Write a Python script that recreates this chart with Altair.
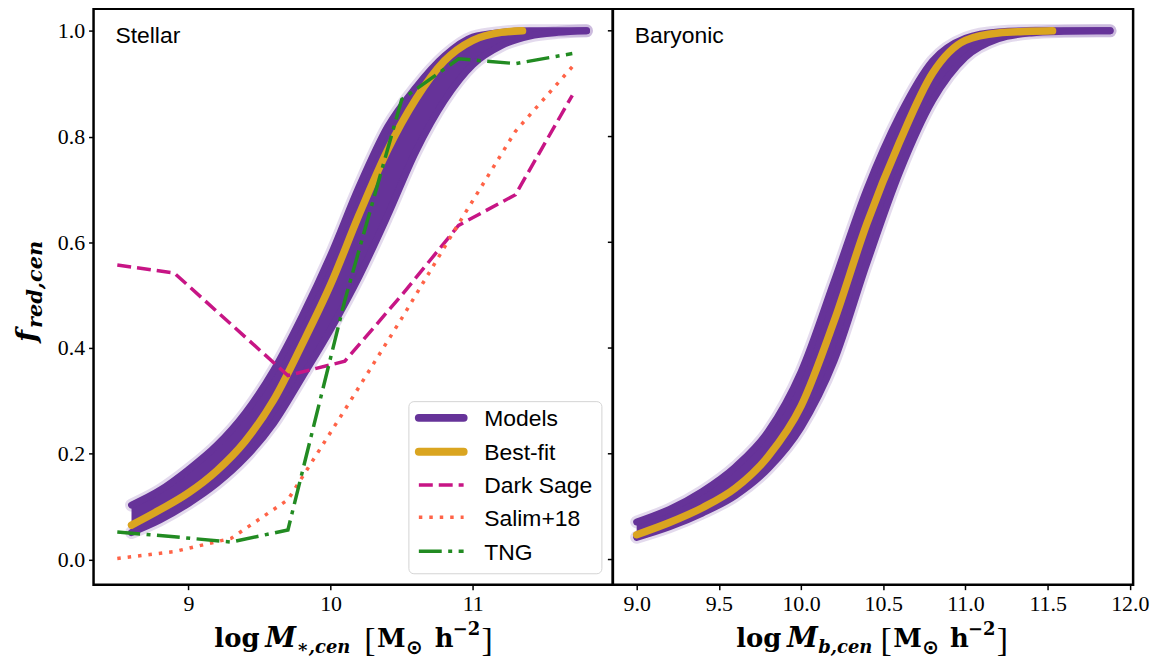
import altair as alt
import pandas as pd

# ---------------- data ----------------
# Stellar panel: envelope of model curves (upper / lower extreme curves) and best-fit
st_x = [8.6, 8.8, 9.0, 9.2, 9.4, 9.6, 9.8, 10.0, 10.2, 10.4, 10.6, 10.8, 11.0, 11.2, 11.4, 11.6, 11.8]
st_upper = [0.103, 0.131, 0.170, 0.216, 0.277, 0.358, 0.460, 0.575, 0.705, 0.818, 0.893, 0.952, 0.988, 0.997, 1.0, 1.0, 1.0]
st_lower = [0.051, 0.075, 0.106, 0.144, 0.193, 0.258, 0.345, 0.435, 0.535, 0.650, 0.772, 0.868, 0.936, 0.972, 0.990, 0.997, 1.0]
st_best_x = [8.6, 8.8, 9.0, 9.2, 9.4, 9.6, 9.8, 10.0, 10.2, 10.4, 10.6, 10.8, 11.0, 11.2, 11.35]
st_best = [0.065, 0.094, 0.126, 0.168, 0.224, 0.302, 0.407, 0.520, 0.652, 0.774, 0.871, 0.943, 0.982, 0.997, 1.0]

# Baryonic panel
ba_x = [9.0, 9.2, 9.4, 9.6, 9.8, 10.0, 10.2, 10.4, 10.6, 10.8, 11.0, 11.2, 11.4, 11.6, 11.8, 11.88]
ba_upper = [0.071, 0.095, 0.129, 0.175, 0.242, 0.355, 0.525, 0.700, 0.840, 0.943, 0.986, 0.998, 1.0, 1.0, 1.0, 1.0]
ba_lower = [0.042, 0.062, 0.088, 0.121, 0.172, 0.250, 0.375, 0.560, 0.733, 0.868, 0.950, 0.985, 0.996, 0.999, 1.0, 1.0]
ba_best_x = [9.0, 9.2, 9.4, 9.6, 9.8, 10.0, 10.2, 10.4, 10.6, 10.8, 11.0, 11.2, 11.4, 11.53]
ba_best = [0.047, 0.070, 0.098, 0.135, 0.195, 0.290, 0.450, 0.635, 0.790, 0.920, 0.982, 0.996, 0.999, 1.0]

# Comparison data (stellar panel)
obs_x = [8.5, 8.9, 9.3, 9.7, 10.1, 10.5, 10.9, 11.3, 11.7]
darksage = [0.557, 0.542, 0.445, 0.348, 0.375, 0.500, 0.632, 0.690, 0.878]
salim = [0.002, 0.015, 0.040, 0.113, 0.283, 0.456, 0.635, 0.810, 0.932]
tng = [0.052, 0.043, 0.033, 0.056, 0.490, 0.870, 0.947, 0.938, 0.957]

legend_names = ["Models", "Best-fit", "Dark Sage", "Salim+18", "TNG"]
y_ticks = [0.0, 0.2, 0.4, 0.6, 0.8, 1.0]
x_ticks_st = [9, 10, 11]
x_ticks_ba = [9.0, 9.5, 10.0, 10.5, 11.0, 11.5, 12.0]

# ---------------- styling ----------------
PURPLE = "#663399"
GOLD = "#DAA520"
MAGENTA = "#C71585"
TOMATO = "#FF6347"
GREEN = "#228B22"
W1, W2, H = 522, 523, 579
Y_DOM = [-0.0476, 1.0418]
SERIF = "Liberation Serif"
MATH = "DejaVu Serif"
SANS = "Liberation Sans"


def axis(vals, fmt):
    return alt.Axis(values=vals, format=fmt, title=None, grid=False, domain=False,
                    tickColor="black", tickSize=5, tickWidth=1.5,
                    labelFont=SERIF, labelFontSize=22, labelColor="black",
                    labelPadding=4, labelFlush=False, labelOverlap=False)


def text(s, x, y, size, font, weight="normal", style="normal", angle=0):
    return alt.Chart(pd.DataFrame({"t": [s]})).mark_text(
        align="left", baseline="alphabetic", font=font, fontSize=size,
        fontWeight=weight, fontStyle=style, angle=angle, color="black"
    ).encode(text="t:N", x=alt.value(x), y=alt.value(y))


def xtitle(sub, pos):
    lx, mx, sx, b1, mm, sun, hx, sup, b2 = pos
    return [
        text("log", lx, 642, 26, MATH, weight="bold"),
        text("M", mx, 642, 28, MATH, weight="bold", style="italic"),
        text(sub, sx, 648, 18, MATH, weight="bold", style="italic"),
        text("[", b1, 646, 34, SERIF),
        text("M", mm, 642, 26, MATH, weight="bold"),
        text("\u2299", sun, 649, 20, "DejaVu Sans", weight="bold"),
        text("h", hx, 642, 26, MATH, weight="bold"),
        text("\u22122", sup, 630, 18, MATH, weight="bold"),
        text("]", b2, 646, 34, SERIF),
    ]


def panel(bx, bu, bl, gx, gy, xdom, xvals, xfmt, yaxis, width, label, sub, pos, extra):
    X = alt.X("x:Q", scale=alt.Scale(domain=xdom, nice=False, zero=False), axis=axis(xvals, xfmt))
    Y = alt.Y("y:Q", scale=alt.Scale(domain=Y_DOM, nice=False, zero=False), axis=yaxis)
    band = pd.DataFrame({"x": bx, "y": bu, "y2": bl})
    up = pd.DataFrame({"x": bx, "y": bu})
    lo = pd.DataFrame({"x": bx, "y": bl})
    best = pd.DataFrame({"x": gx, "y": gy})
    layers = []
    for d in (up, lo):
        layers.append(alt.Chart(d).mark_line(color=PURPLE, strokeWidth=13, opacity=0.18,
                                             interpolate="monotone", strokeCap="round").encode(x=X, y=Y))
    layers.append(alt.Chart(band).mark_area(color=PURPLE, opacity=1, interpolate="monotone").encode(
        x=X, y=Y, y2="y2:Q"))
    for d in (up, lo):
        layers.append(alt.Chart(d).mark_line(color=PURPLE, strokeWidth=7, interpolate="monotone",
                                             strokeCap="round").encode(x=X, y=Y))
    layers.append(alt.Chart(best).mark_line(color=GOLD, strokeWidth=7.5, interpolate="monotone",
                                            strokeCap="round").encode(x=X, y=Y))
    for fn in extra:
        layers.append(fn(X, Y))
    layers.append(text(label, 22, 34, 23, SANS))
    layers += xtitle(sub, pos)
    return alt.layer(*layers).properties(width=width, height=H)


def obs_layers(X, Y):
    out = []
    styles = [(darksage, MAGENTA, [14, 6]), (salim, TOMATO, [3.5, 7]), (tng, GREEN, [23, 6.5, 4, 6.5])]
    for vals, col, dash in styles:
        d = pd.DataFrame({"x": obs_x, "y": vals})
        out.append(alt.Chart(d).mark_line(color=col, strokeWidth=3.5, strokeDash=dash).encode(x=X, y=Y))
    return out


def left_extras():
    ex = []
    ex.append(lambda X, Y: alt.layer(*obs_layers(X, Y)))
    # y ticks on the shared inner edge
    ex.append(lambda X, Y: alt.Chart(pd.DataFrame({"y": y_ticks})).mark_rule(
        color="black", strokeWidth=1.5).encode(y=Y, x=alt.value(W1 - 5), x2=alt.value(W1)))
    # legend box
    ex.append(lambda X, Y: alt.Chart(pd.DataFrame({"a": [0]})).mark_rect(
        fill="white", fillOpacity=0.85, stroke="#d4d4d4", strokeWidth=1, cornerRadius=5
    ).encode(x=alt.value(317), x2=alt.value(511), y=alt.value(395), y2=alt.value(568)))
    ys = [411.3, 445.3, 478.7, 511.3, 545.3]
    lstyle = [(PURPLE, 8, None, "round"), (GOLD, 8, None, "round"), (MAGENTA, 3.5, [14, 6], "butt"),
              (TOMATO, 3.5, [3.5, 7], "butt"), (GREEN, 3.5, [23, 6.5, 4, 6.5], "butt")]
    for name, yy, (col, sw, dash, cap) in zip(legend_names, ys, lstyle):
        kw = dict(color=col, strokeWidth=sw, strokeCap=cap)
        if dash:
            kw["strokeDash"] = dash
        ex.append(lambda X, Y, yy=yy, kw=kw: alt.Chart(pd.DataFrame({"a": [0]})).mark_rule(**kw).encode(
            x=alt.value(327), x2=alt.value(372), y=alt.value(yy)))
        ex.append(lambda X, Y, yy=yy, name=name: text(name, 392.7, yy + 8.5, 23, SANS))
    # y title
    ex.append(lambda X, Y: text("f", -58, 335, 28, MATH, weight="bold", style="italic", angle=270))
    ex.append(lambda X, Y: text("red,cen", -52, 321, 21, MATH, weight="bold", style="italic", angle=270))
    return ex


left = panel(st_x, st_upper, st_lower, st_best_x, st_best, [8.333, 11.985], x_ticks_st, "d",
             axis(y_ticks, ".1f"), W1, "Stellar", "\u2217,cen",
             (121.4, 172.6, 204, 272, 285, 314, 343, 361, 390), left_extras())
right = panel(ba_x, ba_upper, ba_lower, ba_best_x, ba_best, [8.855, 12.02], x_ticks_ba, ".1f",
              None, W2, "Baryonic", "b,cen",
              (124, 175, 206.5, 269, 282, 311, 339, 357, 386), [])

chart = alt.hconcat(left, right, spacing=0, bounds="flush").configure_view(
    stroke="black", strokeWidth=2.5
).properties(padding={"left": 4, "top": -7, "right": 4, "bottom": 0}, background="white")

chart.save("out.html", embed_options={"renderer": "svg", "actions": False})
